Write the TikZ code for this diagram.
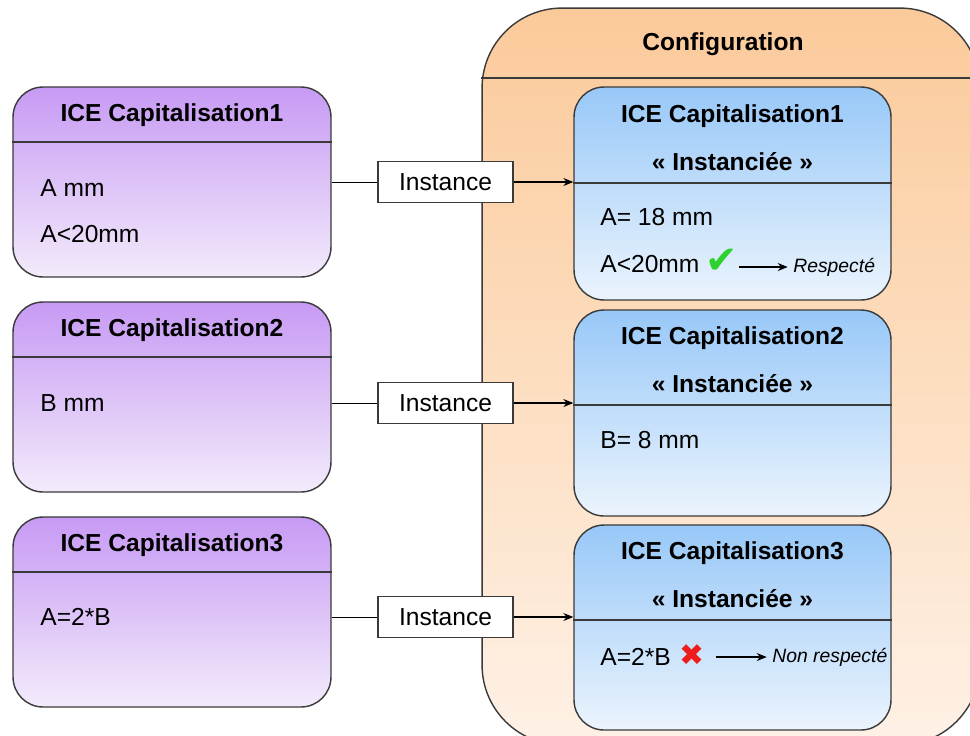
\documentclass[tikz,border=0pt]{standalone}
\usepackage{fontspec}
\setmainfont{Liberation Sans}
\newfontfamily\markfont{DejaVu Sans}
\usetikzlibrary{arrows.meta,positioning}
\definecolor{CapInk}{HTML}{3A3A3A}
\definecolor{CapLilacTop}{HTML}{C79AF4}
\definecolor{CapLilacLow}{HTML}{F3EBFB}
\definecolor{CfgBlueTop}{HTML}{98C8F8}
\definecolor{CfgBlueLow}{HTML}{EBF4FD}
\definecolor{CfgOrangeTop}{HTML}{FBCA9A}
\definecolor{CfgOrangeLow}{HTML}{FEF1E6}
\definecolor{OkGreen}{HTML}{2FD12F}
\definecolor{KoRed}{HTML}{EE1C1C}
\tikzset{
  capbox/.style={draw=CapInk, line width=.8pt, rounded corners=.6cm, top color=CapLilacTop, bottom color=CapLilacLow, minimum width=6.36cm, minimum height=3.8cm},
  cfgbox/.style={draw=CapInk, line width=.8pt, rounded corners=.6cm, top color=CfgBlueTop, bottom color=CfgBlueLow, minimum width=6.34cm},
  confbox/.style={draw=CapInk, line width=.8pt, rounded corners=1.6cm, top color=CfgOrangeTop, bottom color=CfgOrangeLow, minimum width=9.96cm, minimum height=14.74cm},
  headtext/.style={font=\bfseries\fontsize{14}{16}\selectfont, inner sep=0pt},
  attr/.style={font=\fontsize{14}{16}\selectfont, anchor=west, inner sep=0pt},
  verdict/.style={font=\itshape\fontsize{11}{13}\selectfont, anchor=west, inner sep=0pt},
  okmark/.style={font=\markfont\fontsize{22}{24}\selectfont, text=OkGreen, inner sep=0pt},
  komark/.style={font=\markfont\fontsize{17}{19}\selectfont, text=KoRed, inner sep=0pt},
  instbox/.style={draw=CapInk, fill=white, line width=.6pt, minimum width=2.7cm, minimum height=.82cm, font=\fontsize{14}{16}\selectfont},
  flow/.style={-{Stealth[length=2mm,width=1.6mm]}, line width=.6pt, draw=black},
  headline/.style={draw=CapInk, line width=.8pt},
}
\begin{document}
\begin{tikzpicture}[x=0.02cm, y=-0.02cm]
  \path[use as bounding box, clip] (0,0) rectangle (970,735);
  \fill[white] (0,0) rectangle (970,735);
  % configuration container
  \node[confbox] (conf) at (731,376.5) {};
  \draw[headline] (conf.west |- 0,78) -- (conf.east |- 0,78);
  \node[headtext] (conft) at (723,44) {Configuration};
  % capitalised ICEs
  \node[capbox] (cap1) at (172,182) {};
  \draw[headline] (cap1.west |- 0,142) -- (cap1.east |- 0,142);
  \node[headtext] (cap1t) at (172,115) {ICE Capitalisation1};
  \node[attr] (cap1a) at (40,188) {A mm};
  \node[attr] (cap1b) at (40,234) {A<20mm};
  \node[capbox] (cap2) at (172,397) {};
  \draw[headline] (cap2.west |- 0,357) -- (cap2.east |- 0,357);
  \node[headtext] (cap2t) at (172,330) {ICE Capitalisation2};
  \node[attr] (cap2a) at (40,403) {B mm};
  \node[capbox] (cap3) at (172,612) {};
  \draw[headline] (cap3.west |- 0,572) -- (cap3.east |- 0,572);
  \node[headtext] (cap3t) at (172,545) {ICE Capitalisation3};
  \node[attr] (cap3a) at (40,617) {A=2*B};
  % instantiated ICEs
  \node[cfgbox, minimum height=4.26cm] (cfg1) at (732.5,193.5) {};
  \draw[headline] (cfg1.west |- 0,183) -- (cfg1.east |- 0,183);
  \node[headtext] (cfg1t) at (732.5,116) {ICE Capitalisation1};
  \node[headtext] (cfg1s) at (732.5,162) {« Instanciée »};
  \node[attr] (cfg1a) at (600,217) {A= 18 mm};
  \node[attr] (cfg1b) at (600,264) {A<20mm};
  \node[okmark] (cfg1ok) at (722,261) {✔};
  \node[verdict] (cfg1v) at (793,267) {Respecté};
  \draw[flow, shorten >=3pt] (cfg1ok.east |- cfg1v) -- (cfg1v.west);
  \node[cfgbox, minimum height=4.12cm] (cfg2) at (732.5,413) {};
  \draw[headline] (cfg2.west |- 0,405) -- (cfg2.east |- 0,405);
  \node[headtext] (cfg2t) at (732.5,338) {ICE Capitalisation2};
  \node[headtext] (cfg2s) at (732.5,384) {« Instanciée »};
  \node[attr] (cfg2a) at (600,440) {B= 8 mm};
  \node[cfgbox, minimum height=4.1cm] (cfg3) at (732.5,627.5) {};
  \draw[headline] (cfg3.west |- 0,620) -- (cfg3.east |- 0,620);
  \node[headtext] (cfg3t) at (732.5,553) {ICE Capitalisation3};
  \node[headtext] (cfg3s) at (732.5,599) {« Instanciée »};
  \node[attr] (cfg3a) at (600,657) {A=2*B};
  \node[komark] (cfg3ko) at (692,655) {✖};
  \node[verdict] (cfg3v) at (772,657) {Non respecté};
  \draw[flow, shorten >=3pt] (cfg3ko.east) ++(11,0) coordinate (cfg3k) (cfg3k |- cfg3v) -- (cfg3v.west);
  % instance links
  \node[instbox] (inst1) at (445.5,182) {Instance};
  \draw (cap1.east |- inst1) -- (inst1);
  \draw[flow] (inst1) -- (cfg1.west |- inst1);
  \node[instbox] (inst2) at (445.5,403) {Instance};
  \draw (cap2.east |- inst2) -- (inst2);
  \draw[flow] (inst2) -- (cfg2.west |- inst2);
  \node[instbox] (inst3) at (445.5,617) {Instance};
  \draw (cap3.east |- inst3) -- (inst3);
  \draw[flow] (inst3) -- (cfg3.west |- inst3);
\end{tikzpicture}
\end{document}
